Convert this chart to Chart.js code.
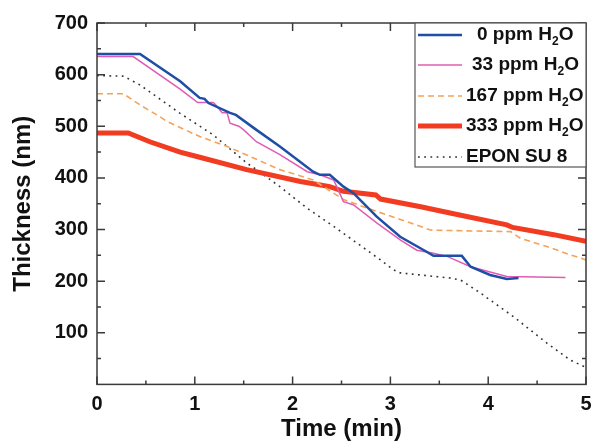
<!DOCTYPE html>
<html>
<head>
<meta charset="utf-8">
<script src="https://cdn.jsdelivr.net/npm/chart.js@4.4.1/dist/chart.umd.min.js"></script>
<style>
  html, body { margin: 0; padding: 0; background: #fff; }
  #wrap { width: 592px; height: 441px; }
</style>
</head>
<body>
<div id="wrap"><canvas id="thicknessChart" width="592" height="441"></canvas></div>
<script>
// series names (legend)
const seriesNames = ['0 ppm H₂O', '33 ppm H₂O', '167 ppm H₂O', '333 ppm H₂O', 'EPON SU 8'];

// 0 ppm H2O
const time0 = [0, 0.44, 0.85, 1.05, 1.10, 1.14, 1.36, 1.42, 1.63, 1.87, 2.21, 2.28, 2.38, 2.52, 2.62, 2.86, 3.10, 3.37, 3.44, 3.73, 3.82, 4.02, 4.19, 4.31];
const thick0 = [640, 640, 587, 555, 553, 545, 526, 522, 493, 461, 412, 406, 406, 383, 371, 325, 286, 257, 249, 249, 228, 212, 204, 206];

// 33 ppm H2O
const time33 = [0, 0.37, 0.85, 1.03, 1.19, 1.22, 1.28, 1.33, 1.36, 1.45, 1.50, 1.63, 1.87, 2.15, 2.28, 2.42, 2.52, 2.62, 2.86, 3.10, 3.27, 3.44, 3.58, 3.82, 4.19, 4.79];
const thick33 = [635, 635, 572, 546, 546, 540, 526, 526, 506, 500, 493, 470, 445, 412, 406, 396, 354, 348, 313, 280, 260, 254, 248, 228, 209, 207];

// 167 ppm H2O
const time167 = [0, 0.27, 0.45, 0.64, 0.71, 1.05, 1.33, 1.87, 2.21, 2.52, 2.86, 3.20, 3.41, 3.61, 4.23, 4.33, 4.60, 4.84, 5.0];
const thick167 = [563, 563, 540, 519, 510, 480, 461, 416, 396, 358, 335, 313, 299, 298, 296, 283, 267, 251, 241];

// 333 ppm H2O
const time333 = [0, 0.32, 0.54, 0.85, 1.05, 1.53, 2.08, 2.38, 2.52, 2.85, 2.90, 3.31, 3.61, 4.19, 4.25, 4.67, 5.0];
const thick333 = [487, 487, 470, 450, 440, 416, 393, 383, 374, 367, 359, 344, 332, 309, 304, 290, 277];

// EPON SU 8
const timeSU8 = [0, 0.27, 0.44, 0.85, 1.19, 1.53, 1.63, 1.87, 2.15, 2.42, 2.76, 2.90, 3.03, 3.10, 3.61, 3.72, 3.92, 4.26, 4.60, 4.84, 5.0];
const thickSU8 = [598, 597, 580, 525, 483, 429, 416, 383, 341, 306, 260, 241, 222, 216, 206, 202, 177, 131, 80, 47, 33];

// axis ticks
const xTicks = [0, 1, 2, 3, 4, 5];
const yTicks = [100, 200, 300, 400, 500, 600, 700];

function pts(t, v) {
    return t.map((x, i) => ({ x: x, y: v[i] }));
}

const FONT = '"Liberation Sans", Arial, sans-serif';
const AXIS_COLOR = '#3a3a3a';

/* marcos, ticks hacia dentro y leyenda */
const framePlugin = {
    id: 'frame',
    afterDraw(chart) {
        const ctx = chart.ctx;
        const a = chart.chartArea;
        const xs = chart.scales.x;
        const ys = chart.scales.y;
        ctx.save();
        ctx.strokeStyle = AXIS_COLOR;
        ctx.lineWidth = 1.5;
        ctx.strokeRect(a.left, a.top, a.right - a.left, a.bottom - a.top);

        // x ticks (major + minor), bottom and top
        for (let v = 0; v <= 5; v += 0.5) {
            const px = xs.getPixelForValue(v);
            const len = Number.isInteger(v) ? 8 : 4;
            ctx.beginPath();
            ctx.moveTo(px, a.bottom); ctx.lineTo(px, a.bottom - len);
            ctx.moveTo(px, a.top); ctx.lineTo(px, a.top + len);
            ctx.stroke();
        }
        // y ticks, left and right
        for (let v = 50; v <= 700; v += 50) {
            const py = ys.getPixelForValue(v);
            const len = v % 100 === 0 ? 8 : 4;
            ctx.beginPath();
            ctx.moveTo(a.left, py); ctx.lineTo(a.left + len, py);
            ctx.moveTo(a.right, py); ctx.lineTo(a.right - len, py);
            ctx.stroke();
        }

        // legend box
        const bx = 415, by = a.top, bw = a.right - 415, bh = 144;
        ctx.fillStyle = '#fff';
        ctx.fillRect(bx, by, bw, bh);
        ctx.strokeStyle = '#555';
        ctx.lineWidth = 1.2;
        ctx.strokeRect(bx, by, bw, bh);

        const rowY = [35, 65, 96, 126, 157];
        const textX = [477, 472, 466, 466, 466];
        chart.data.datasets.forEach((ds, i) => {
            const y = rowY[i];
            ctx.save();
            ctx.strokeStyle = ds.borderColor;
            ctx.lineWidth = ds.borderWidth;
            ctx.setLineDash(ds.borderDash || []);
            ctx.beginPath();
            ctx.moveTo(418, y); ctx.lineTo(462, y);
            ctx.stroke();
            ctx.restore();

            ctx.fillStyle = '#111';
            ctx.textBaseline = 'middle';
            ctx.textAlign = 'left';
            const parts = ds.label.split('₂');
            let x = textX[i];
            ctx.font = 'bold 19px ' + FONT;
            ctx.fillText(parts[0], x, y);
            x += ctx.measureText(parts[0]).width;
            if (parts.length > 1) {
                ctx.font = 'bold 12px ' + FONT;
                ctx.fillText('2', x, y + 7);
                x += ctx.measureText('2').width;
                ctx.font = 'bold 19px ' + FONT;
                ctx.fillText(parts[1], x, y);
            }
        });
        ctx.restore();
    }
};

const ctx = document.getElementById('thicknessChart').getContext('2d');
new Chart(ctx, {
    type: 'line',
    data: {
        datasets: [
            { label: seriesNames[0], data: pts(time0, thick0), borderColor: '#1f4ea6', borderWidth: 2.5 },
            { label: seriesNames[1], data: pts(time33, thick33), borderColor: '#e05cb4', borderWidth: 1.5 },
            { label: seriesNames[2], data: pts(time167, thick167), borderColor: '#f4a25a', borderWidth: 1.6, borderDash: [6, 4] },
            { label: seriesNames[3], data: pts(time333, thick333), borderColor: '#f23c22', borderWidth: 5 },
            { label: seriesNames[4], data: pts(timeSU8, thickSU8), borderColor: '#333333', borderWidth: 1.6, borderDash: [1.8, 4.4] }
        ]
    },
    options: {
        responsive: false,
        animation: false,
        layout: { padding: { top: 23, right: 6, left: 0, bottom: 0 } },
        elements: { point: { radius: 0 }, line: { tension: 0 } },
        plugins: {
            legend: { display: false },
            tooltip: { enabled: false }
        },
        scales: {
            x: {
                type: 'linear',
                min: 0,
                max: 5,
                afterFit: (s) => { s.height = 56.6; s.paddingLeft = 0; s.paddingRight = 0; },
                afterBuildTicks: (s) => { s.ticks = xTicks.map(v => ({ value: v })); },
                grid: { display: false, drawTicks: false },
                border: { display: false },
                ticks: { color: '#111', font: { family: FONT, size: 20, weight: 'bold' }, padding: 8, maxRotation: 0 },
                title: { display: true, text: 'Time (min)', color: '#111', font: { family: FONT, size: 24, weight: 'bold' }, padding: { top: 0, bottom: -3 } }
            },
            y: {
                min: 0,
                max: 700,
                afterFit: (s) => { s.width = 97; },
                afterBuildTicks: (s) => { s.ticks = yTicks.map(v => ({ value: v })); },
                grid: { display: false, drawTicks: false },
                border: { display: false },
                ticks: { color: '#111', font: { family: FONT, size: 20, weight: 'bold' }, padding: 9 },
                title: { display: true, text: 'Thickness (nm)', color: '#111', font: { family: FONT, size: 24, weight: 'bold' }, padding: { top: 9, bottom: 0 } }
            }
        }
    },
    plugins: [framePlugin]
});
</script>
</body>
</html>
